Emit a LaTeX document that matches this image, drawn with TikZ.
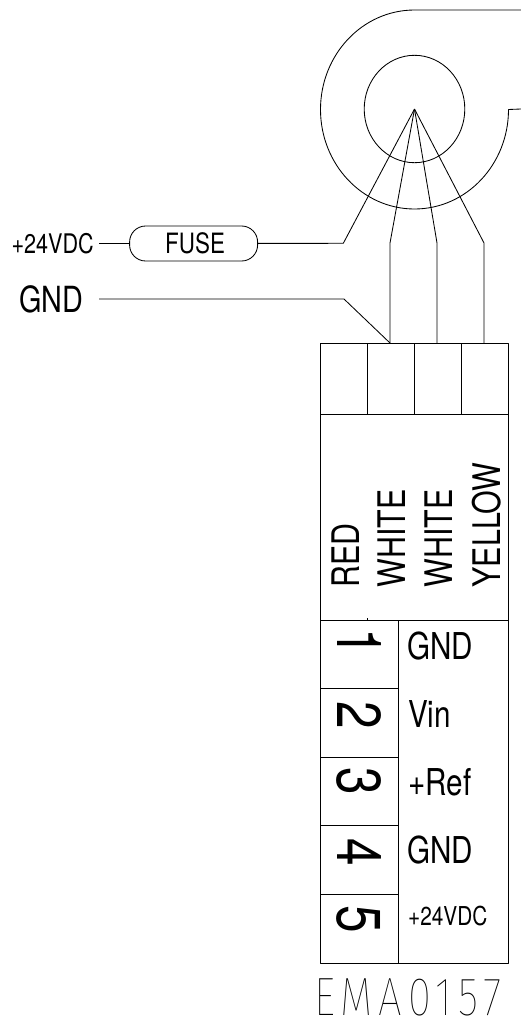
\documentclass[tikz,border=0pt]{standalone}
\usepackage{fontspec}
\setmainfont[FakeStretch=0.8]{TeX Gyre Heros}
\newfontfamily\thinfont[FakeStretch=0.78,LetterSpace=11]{Fira Sans Thin}
\tikzset{
    wire/.style={line width=0.85pt, line join=round},
    lbl/.style={inner sep=0pt, anchor=base west, text=black},
    vlbl/.style={inner sep=0pt, anchor=base west, rotate=90, font=\fontsize{38}{38}\selectfont},
    pinnum/.style={inner sep=0pt, rotate=-90, font=\fontsize{62}{62}\selectfont},
    fusebox/.style={draw, line width=0.85pt, rounded corners=16pt, minimum width=128pt, minimum height=35pt, inner sep=0pt}
}
\begin{document}
\begin{tikzpicture}[x=1pt, y=-1pt]
        \useasboundingbox (0,0) rectangle (521,1023);
        %Blower outline
        \coordinate (hub) at (414.5,109);
        \coordinate (scrolltop) at (414.5,10);
        \coordinate (outtop) at (521,10);
        \coordinate (outlow) at (521,109);
        \draw[wire] (outtop) -- (scrolltop) arc[start angle=90, end angle=360, x radius=94pt, y radius=99.5pt] -- (outlow);
        \draw[wire] (hub) ellipse[x radius=50.3pt, y radius=53.7pt];
        %Bends of the wires
        \coordinate (bendred) at (343.3,243.3);
        \coordinate (bendwa) at (390,243);
        \coordinate (bendwb) at (437,243);
        \coordinate (bendyl) at (484,243);
        \coordinate (footwa) at (390,343);
        \coordinate (footwb) at (437,343);
        \coordinate (footyl) at (484,343);
        \draw[wire] (hub) -- (bendwa) -- (footwa);
        \draw[wire] (hub) -- (bendwb) -- (footwb);
        \draw[wire] (hub) -- (bendyl) -- (footyl);
        %Fuse line
        \node[fusebox, font=\fontsize{28}{28}\selectfont] (fuse) at (193.6,243.5) {\hspace*{3pt}FUSE};
        \node[inner sep=0pt, anchor=east, font=\fontsize{27}{27}\selectfont] (vdcin) at (94,243.5) {+24VDC};
        \coordinate (vdcfree) at (99,243.5);
        \draw[wire] (vdcfree) -- (fuse);
        \draw[wire] (fuse) -- (bendred) -- (hub);
        %GND line
        \node[lbl, font=\fontsize{36}{36}\selectfont] (gndin) at (19,312.5) {GND};
        \coordinate (gndfree) at (99,299);
        \coordinate (gndbend) at (344,299);
        \draw[wire] (gndfree) -- (gndbend) -- (footwa);
        %Connector body
        \draw[wire] (320.5,343) rectangle (508.7,963);
        \draw[wire] (320.5,414) -- (508.7,414);
        \draw[wire] (367.5,343) -- (367.5,414);
        \draw[wire] (414.5,343) -- (414.5,414);
        \draw[wire] (461.5,343) -- (461.5,414);
        \draw[wire] (320.5,620) -- (508.7,620);
        \draw[wire] (398,620) -- (398,963);
        \draw[wire] (320.5,688) -- (398,688);
        \draw[wire] (320.5,757) -- (398,757);
        \draw[wire] (320.5,825.7) -- (398,825.7);
        \draw[wire] (320.5,894) -- (398,894);
        \draw[wire] (367.5,618) -- (367.5,620);
        %Wire colours
        \node[vlbl] (cred) at (359,587.5) {RED};
        \node[vlbl] (cwhitea) at (405.5,587.5) {WHITE};
        \node[vlbl] (cwhiteb) at (452.5,587.5) {WHITE};
        \node[vlbl] (cyellow) at (500,587.5) {YELLOW};
        %Pin numbers
        \node[pinnum] (pina) at (359,642) {1};
        \node[pinnum] (pinb) at (359,715) {2};
        \node[pinnum] (pinc) at (359,781) {3};
        \node[pinnum] (pind) at (359,852) {4};
        \node[pinnum] (pine) at (359,919) {5};
        %Pin names
        \node[lbl, font=\fontsize{37}{37}\selectfont] (namea) at (407,659) {GND};
        \node[lbl, font=\fontsize{37}{37}\selectfont] (nameb) at (408,727) {Vin};
        \node[lbl, font=\fontsize{37}{37}\selectfont] (namec) at (408,795.5) {+Ref};
        \node[lbl, font=\fontsize{37}{37}\selectfont] (named) at (407,863.5) {GND};
        \node[lbl, font=\fontsize{26}{26}\selectfont] (namee) at (408,925) {+24VDC};
        %Drawing number
        \node[lbl, font=\thinfont\fontsize{54}{54}\selectfont] (dwgno) at (314,1015) {EMA0157};
    \end{tikzpicture}
\end{document}
